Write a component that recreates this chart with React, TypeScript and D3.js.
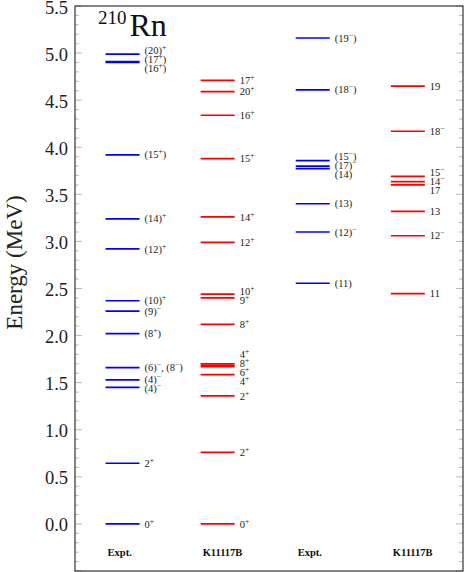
import React from "react";
import * as d3 from "d3";

// columns of the level scheme
const columns = ["Expt.", "K11117B", "Expt.", "K11117B"];
const columnColors = ["#0000ff", "#ff0000", "#0000ff", "#ff0000"];

// positive parity, experiment
const exptPosE = [0, 0.644, 1.45, 1.53, 1.66, 2.02, 2.26, 2.37, 2.92, 3.24, 3.92, 4.9, 4.91, 4.99];
const exptPosLabels = ["0^{+}", "2^{+}", "(4)^{−}", "(4)^{−}", "(6)^{−}, (8^{−})", "(8^{+})", "(9)^{−}", "(10)^{+}",
  "(12)^{+}", "(14)^{+}", "(15^{+})", "(16^{+})", "(17^{+})", "(20)^{+}"];

// positive parity, shell model
const calcPosE = [0, 0.76, 1.36, 1.585, 1.67, 1.685, 1.7, 2.12, 2.4, 2.44, 2.99, 3.26, 3.88, 4.34, 4.59, 4.71];
const calcPosLabels = ["0^{+}", "2^{+}", "2^{+}", "4^{+}", "6^{+}", "8^{+}", "4^{+}", "8^{+}", "9^{+}", "10^{+}",
  "12^{+}", "14^{+}", "15^{+}", "16^{+}", "20^{+}", "17^{+}"];

// negative parity, experiment
const exptNegE = [2.556, 3.1, 3.4, 3.773, 3.8, 3.858, 4.61, 5.16];
const exptNegLabels = ["(11)", "(12)^{−}", "(13)", "(14)", "(17)^{−}", "(15^{−})", "(18^{−})", "(19^{−})"];

// negative parity, shell model
const calcNegE = [2.445, 3.06, 3.32, 3.6, 3.635, 3.69, 4.17, 4.65];
const calcNegLabels = ["11", "12^{−}", "13", "17", "14^{−}", "15^{−}", "18^{−}", "19"];

const yTicks = [0, 0.5, 1, 1.5, 2, 2.5, 3, 3.5, 4, 4.5, 5, 5.5];

const levels = [
  { e: exptPosE, labels: exptPosLabels },
  { e: calcPosE, labels: calcPosLabels },
  { e: exptNegE, labels: exptNegLabels },
  { e: calcNegE, labels: calcNegLabels },
];

const W = 464, H = 572;
const frame = { left: 75, right: 463, top: 6, bottom: 571 };
const serif = "'Liberation Serif', 'DejaVu Serif', serif";

// push overlapping labels apart, keeping each group centred on its lines
function dodge(ys: number[], gap: number): number[] {
  const order = ys.map((_, i) => i).sort((a, b) => ys[a] - ys[b]);
  const clusters: { idx: number[]; mean: number }[] = [];
  for (const i of order) {
    clusters.push({ idx: [i], mean: ys[i] });
    while (clusters.length > 1) {
      const b = clusters[clusters.length - 1];
      const a = clusters[clusters.length - 2];
      const aBottom = a.mean + ((a.idx.length - 1) * gap) / 2;
      const bTop = b.mean - ((b.idx.length - 1) * gap) / 2;
      if (bTop - aBottom < gap) {
        const idx = a.idx.concat(b.idx);
        clusters.splice(clusters.length - 2, 2, { idx, mean: d3.mean(idx, (j) => ys[j])! });
      } else break;
    }
  }
  const out: number[] = new Array(ys.length);
  clusters.forEach((c) =>
    c.idx.forEach((j, k) => (out[j] = c.mean + (k - (c.idx.length - 1) / 2) * gap))
  );
  return out;
}

function renderLabel(s: string) {
  const parts = s.split(/\^\{([^}]*)\}/);
  return parts.map((p, i) =>
    i % 2 ? (
      <tspan key={i} baselineShift="super" fontSize={7.5}>{p}</tspan>
    ) : (
      <tspan key={i}>{p}</tspan>
    )
  );
}

export default function App() {
  const y = d3.scaleLinear().domain([-0.5, 5.5]).range([frame.bottom, frame.top]);
  const x = d3.scaleLinear().domain([-0.5, 3.58]).range([frame.left, frame.right]);
  const half = 17;
  const minorTicks = d3.range(-5, 56).map((d) => d / 10);

  return (
    <svg width={W} height={H} style={{ position: "absolute", left: 0, top: 0 }} fontFamily={serif}>
      <rect x={0} y={0} width={W} height={H} fill="white" />

      {/* ticks */}
      {minorTicks.map((t, i) => {
        const major = Math.round(t * 10) % 5 === 0;
        const len = major ? 7 : 4;
        return (
          <g key={i} stroke="#a8a8a8" strokeWidth={0.8}>
            <line x1={frame.left} x2={frame.left + len} y1={y(t)} y2={y(t)} />
            <line x1={frame.right} x2={frame.right - len} y1={y(t)} y2={y(t)} />
          </g>
        );
      })}

      {/* tick labels */}
      {yTicks.map((t) => (
        <text key={t} x={68} y={Math.max(y(t) + 1, 8)} dy="0.35em" textAnchor="end" fontSize={18.5} fill="#222">
          {d3.format(".1f")(t)}
        </text>
      ))}

      <text
        transform={`translate(22,${(frame.top + frame.bottom) / 2 - 26}) rotate(-90)`}
        textAnchor="middle"
        fontSize={23}
        fill="#222"
      >
        Energy (MeV)
      </text>

      {/* levels */}
      {levels.map((col, ci) => {
        const cx = x(ci);
        const lineYs = col.e.map((e) => y(e));
        const labYs = dodge(lineYs, 9);
        return (
          <g key={ci}>
            {col.e.map((e, i) => (
              <line key={i} x1={cx - half} x2={cx + half} y1={y(e)} y2={y(e)}
                stroke={columnColors[ci]} strokeWidth={1.7} />
            ))}
            {col.labels.map((l, i) => (
              <text key={i} x={cx + half + 5} y={labYs[i]} dy="0.35em" fontSize={10.5} fill="#222">
                {renderLabel(l)}
              </text>
            ))}
            <text x={cx - half + 2} y={y(-0.3)} dy="0.35em" fontSize={10.5} fontWeight="bold" fill="#111">
              {columns[ci]}
            </text>
          </g>
        );
      })}

      {/* nucleus */}
      <text x={98} y={36} fontSize={32} fill="#111">
        <tspan fontSize={19} dy={-12}>210</tspan>
        <tspan dx={3} dy={12}>Rn</tspan>
      </text>

      <rect x={frame.left} y={frame.top} width={frame.right - frame.left} height={frame.bottom - frame.top}
        fill="none" stroke="#333" strokeWidth={1.2} />
    </svg>
  );
}
